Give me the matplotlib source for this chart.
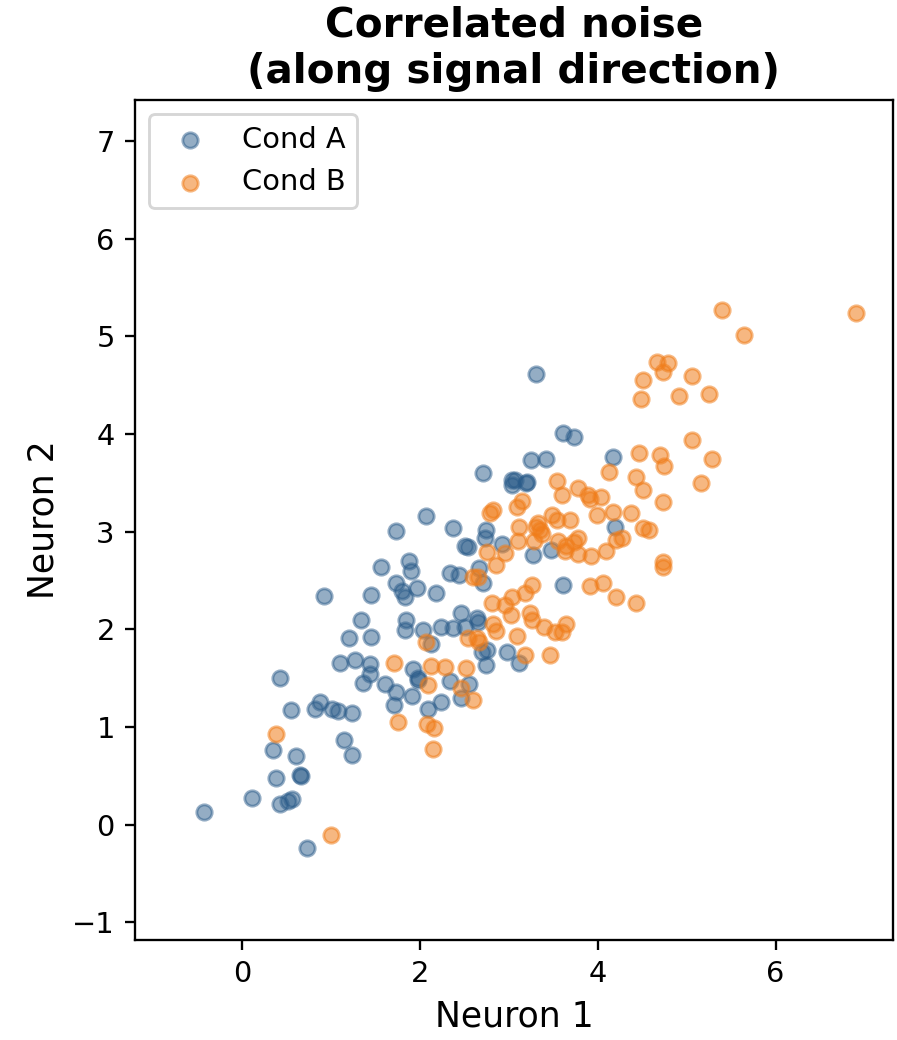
import matplotlib
matplotlib.use("Agg")
import matplotlib.pyplot as plt
import numpy as np

# Condition A responses (neuron 1, neuron 2)
cond_a_x = [-0.42, 0.12, 0.43, 0.55, 0.35, 0.61, 0.39, 0.67, 0.65, 0.43,
            0.52, 0.56, 0.73, 0.88, 0.82, 1.02, 1.08, 1.24, 1.15, 1.24,
            1.10, 1.27, 1.44, 1.44, 1.36, 1.61, 1.73, 1.91, 1.71, 1.98,
            2.09, 2.24, 2.34, 2.56, 2.47, 0.92, 1.45, 1.73, 1.80, 1.83,
            1.97, 2.18, 1.34, 1.85, 1.83, 1.20, 1.45, 2.04, 2.13, 2.24,
            2.37, 2.47, 2.64, 2.65, 2.51, 2.70, 2.76, 2.75, 2.98, 3.12,
            1.57, 1.88, 1.90, 2.34, 2.44, 2.71, 2.67, 2.07, 1.73, 2.37,
            2.51, 2.54, 2.75, 2.73, 2.93, 3.07, 3.20, 3.27, 3.48, 3.61,
            4.19, 3.31, 3.61, 3.74, 3.25, 3.42, 4.17, 2.71, 3.04, 3.04,
            3.21, 1.92, 1.98]
cond_a_y = [0.13, 0.27, 1.50, 1.17, 0.76, 0.70, 0.48, 0.50, 0.51, 0.21,
            0.24, 0.26, -0.24, 1.26, 1.18, 1.18, 1.16, 1.14, 0.87, 0.71,
            1.66, 1.69, 1.65, 1.54, 1.45, 1.44, 1.36, 1.32, 1.23, 1.48,
            1.18, 1.26, 1.47, 1.44, 1.30, 2.34, 2.35, 2.47, 2.39, 2.33,
            2.42, 2.37, 2.10, 2.10, 1.99, 1.91, 1.92, 1.99, 1.85, 2.02,
            2.01, 2.17, 2.12, 2.08, 2.02, 1.77, 1.79, 1.64, 1.77, 1.66,
            2.64, 2.70, 2.60, 2.58, 2.56, 2.47, 2.63, 3.16, 3.01, 3.04,
            2.85, 2.84, 3.02, 2.94, 2.87, 3.53, 3.50, 2.76, 2.81, 2.45,
            3.05, 4.61, 4.01, 3.97, 3.73, 3.74, 3.76, 3.60, 3.53, 3.48,
            3.51, 1.59, 1.50]

# Condition B responses
cond_b_x = [0.38, 1.00, 1.71, 1.76, 2.08, 2.16, 2.15, 2.07, 2.13, 2.29,
            2.52, 2.09, 2.47, 2.60, 2.54, 2.64, 2.67, 2.81, 2.96, 3.03,
            3.24, 3.26, 2.82, 2.86, 3.09, 3.40, 3.52, 3.18, 3.46, 2.60,
            2.65, 2.86, 2.76, 2.96, 2.82, 2.79, 3.10, 3.12, 3.09, 3.15,
            3.29, 3.31, 3.35, 3.33, 3.49, 3.54, 3.69, 3.55, 3.65, 3.74,
            3.78, 3.63, 3.78, 3.93, 4.09, 3.99, 4.17, 4.21, 3.60, 3.78,
            3.89, 3.91, 4.04, 3.54, 3.91, 4.06, 4.21, 3.26, 3.18, 3.04,
            3.65, 3.60, 4.38, 4.51, 4.58, 4.27, 4.73, 4.73, 4.43, 4.73,
            4.13, 4.43, 4.51, 4.47, 4.70, 4.75, 4.51, 4.49, 4.67, 4.73,
            4.79, 5.06, 4.92, 5.25, 5.06, 5.29, 5.16, 5.40, 5.65, 6.91,
            3.37]
cond_b_y = [0.93, -0.11, 1.66, 1.05, 1.03, 0.99, 0.78, 1.87, 1.63, 1.61,
            1.60, 1.43, 1.40, 1.28, 1.91, 1.91, 1.87, 2.27, 2.25, 2.15,
            2.17, 2.10, 2.05, 1.98, 1.93, 2.02, 1.97, 1.74, 1.74, 2.54,
            2.54, 2.66, 2.79, 2.78, 3.22, 3.19, 2.90, 3.05, 3.25, 3.31,
            2.90, 3.05, 3.02, 3.09, 3.17, 3.12, 3.12, 2.90, 2.85, 2.89,
            2.94, 2.80, 2.77, 2.75, 2.80, 3.17, 3.20, 2.92, 3.38, 3.45,
            3.38, 3.33, 3.36, 3.52, 2.44, 2.47, 2.33, 2.45, 2.37, 2.33,
            2.06, 1.97, 3.19, 3.04, 3.02, 2.94, 2.69, 2.64, 2.27, 3.30,
            3.61, 3.56, 3.43, 3.81, 3.79, 3.67, 4.55, 4.36, 4.74, 4.64,
            4.73, 4.59, 4.39, 4.41, 3.94, 3.74, 3.50, 5.27, 5.01, 5.24,
            2.98]

DPI = 208
fig = plt.figure(figsize=(897 / DPI, 1040 / DPI), dpi=DPI)
ax = fig.add_axes([0.1505, 0.0962, 0.845, 0.8076])

ax.scatter(cond_a_x, cond_a_y, s=28, color="#2b5c8a", alpha=0.5, label="Cond A")
ax.scatter(cond_b_x, cond_b_y, s=28, color="#f07d1a", alpha=0.55, label="Cond B")

ax.set_xlim(-1.2, 7.32)
ax.set_ylim(-1.18, 7.42)
ax.set_xticks([0, 2, 4, 6])
ax.set_yticks(np.arange(-1, 8))
ax.tick_params(labelsize=10)

ax.set_xlabel("Neuron 1", fontsize=12)
ax.set_ylabel("Neuron 2", fontsize=12)
ax.set_title("Correlated noise\n(along signal direction)", fontsize=14, fontweight="bold")
ax.legend(loc="upper left", fontsize=10)

fig.savefig("out.png", dpi=DPI)
plt.close(fig)
